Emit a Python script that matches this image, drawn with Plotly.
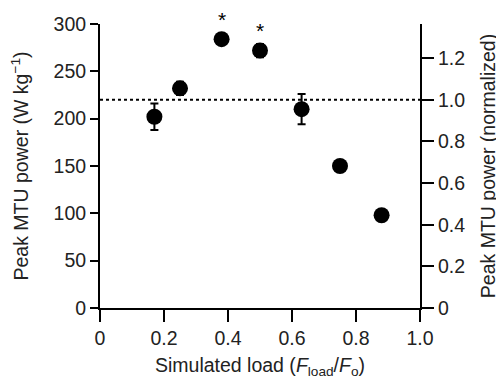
import plotly.graph_objects as go

# Data
load = [0.17, 0.25, 0.38, 0.50, 0.63, 0.75, 0.88]
power = [202, 232, 284, 272, 210, 150, 98]
power_err = [14, 7, 0, 7, 16, 0, 0]
reference_power = 220  # normalisation value (=1.0 on right axis)
star_load = [0.38, 0.50]
star_power = [284, 272]

x_ticks = [0, 0.2, 0.4, 0.6, 0.8, 1.0]
x_ticklabels = ["0", "0.2", "0.4", "0.6", "0.8", "1.0"]
y_ticks = [0, 50, 100, 150, 200, 250, 300]
y2_ticks = [0, 0.2, 0.4, 0.6, 0.8, 1.0, 1.2]
y2_ticklabels = ["0", "0.2", "0.4", "0.6", "0.8", "1.0", "1.2"]

FONT = "Liberation Sans, Arial, sans-serif"
fs = 19.5
TXT = "#222"

fig = go.Figure()
fig.add_trace(go.Scatter(
    x=load, y=power, mode="markers",
    marker=dict(size=16, color="black"),
    error_y=dict(type="data", array=power_err, visible=True,
                 color="black", thickness=2, width=4),
    showlegend=False, cliponaxis=False,
))
# invisible trace on secondary axis to activate it
fig.add_trace(go.Scatter(x=[None], y=[None], yaxis="y2", showlegend=False))

fig.add_shape(type="line", xref="x", yref="y", x0=0, x1=1.0,
              y0=reference_power, y1=reference_power,
              line=dict(color="black", width=2, dash="dot"))

for sx, sy in zip(star_load, star_power):
    fig.add_annotation(x=sx, y=sy, text="*", showarrow=False,
                       yshift=20, font=dict(size=21, color="black", family=FONT))

def axis_style(ticklen):
    return dict(showline=True, linecolor="black", linewidth=2,
                ticks="outside", ticklen=ticklen, tickwidth=2, tickcolor="black",
                showgrid=False, zeroline=False, automargin=False,
                tickfont=dict(size=fs, color=TXT, family=FONT))

# the page body adds an 8px offset, so margins are compensated
fig.update_layout(
    width=504, height=384,
    margin=dict(l=92, r=92, t=16, b=84),
    plot_bgcolor="white", paper_bgcolor="white",
    font=dict(family=FONT, size=fs, color=TXT),
    xaxis=dict(range=[0, 1.0], tickvals=x_ticks, ticktext=x_ticklabels,
               title=dict(text="Simulated load (<i>F</i><sub>load</sub>/<i>F</i><sub>o</sub>)",
                          font=dict(size=fs), standoff=10),
               **axis_style(12)),
    yaxis=dict(range=[0, 300], tickvals=y_ticks,
               title=dict(text="Peak MTU power (W kg<sup>−1</sup>)", font=dict(size=fs), standoff=26),
               **axis_style(8)),
    yaxis2=dict(range=[0, 300 / reference_power], overlaying="y", side="right",
                tickvals=y2_ticks, ticktext=y2_ticklabels,
                title=dict(text="Peak MTU power (normalized)", font=dict(size=fs), standoff=17),
                **axis_style(12)),
)

fig.write_html("out.html")
